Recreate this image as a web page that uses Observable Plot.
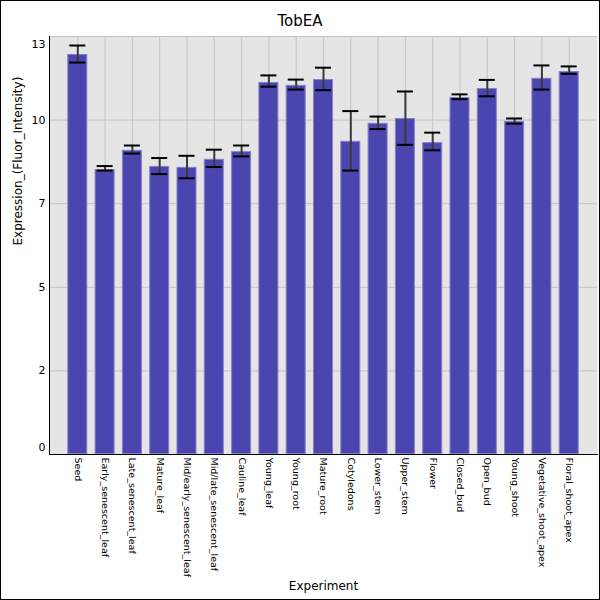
<!DOCTYPE html>
<html>
<head>
<meta charset="utf-8">
<script src="https://cdn.jsdelivr.net/npm/d3@7"></script>
<script src="https://cdn.jsdelivr.net/npm/@observablehq/plot@0.6"></script>
<style>
  html, body { margin: 0; padding: 0; background: white; }
  #wrap { position: relative; width: 600px; height: 600px; font-family: "DejaVu Sans", sans-serif; }
  #border { position: absolute; left: 0; top: 0; width: 600px; height: 600px; box-sizing: border-box; border: 1px solid black; pointer-events: none; }
  #title { position: absolute; left: 0; width: 600px; top: 11px; text-align: center; font-size: 15px; line-height: 20px; color: black; }
  svg { display: block; }
</style>
</head>
<body>
<div id="wrap">
  <div id="chart"></div>
  <div id="title">TobEA</div>
  <div id="border"></div>
</div>
<script>
const categories = ["Seed","Early_senescent_leaf","Late_senescent_leaf","Mature_leaf","Mid/early_senescent_leaf","Mid/late_senescent_leaf","Cauline_leaf","Young_leaf","Young_root","Mature_root","Cotyledons","Lower_stem","Upper_stem","Flower","Closed_bud","Open_bud","Young_shoot","Vegetative_shoot_apex","Floral_shoot_apex"];
const values = [12.44, 8.86, 9.46, 8.96, 8.93, 9.18, 9.42, 11.57, 11.48, 11.66, 9.74, 10.30, 10.45, 9.70, 11.10, 11.38, 10.36, 11.70, 11.91];
const errHigh = [12.72, 8.97, 9.61, 9.22, 9.29, 9.48, 9.61, 11.79, 11.66, 12.03, 10.68, 10.51, 11.29, 10.01, 11.20, 11.65, 10.45, 12.10, 12.07];
const errLow = [12.19, 8.83, 9.36, 8.72, 8.59, 8.94, 9.27, 11.44, 11.35, 11.33, 8.83, 10.12, 9.63, 9.46, 11.05, 11.14, 10.29, 11.35, 11.84];
const yTicks = [0, 2.6, 5.2, 7.8, 10.4, 13];
const yTickLabels = ["0", "2", "5", "7", "10", "13"];

const data = categories.map((name, i) => ({name, value: values[i], lo: errLow[i], hi: errHigh[i]}));
const fmt = d => yTickLabels[yTicks.indexOf(d)];

const chart = Plot.plot({
  width: 600,
  height: 600,
  marginLeft: 49,
  marginRight: 3,
  marginTop: 36,
  marginBottom: 146,
  style: {fontFamily: "DejaVu Sans, sans-serif", background: "transparent", color: "black"},
  x: {type: "band", domain: categories, paddingInner: 0.267, paddingOuter: 0.67, round: false, label: null},
  y: {domain: [0, 13], label: null},
  marks: [
    Plot.frame({fill: "#e5e5e5", stroke: null}),
    Plot.gridY(yTicks, {stroke: "#c2c2c2", strokeOpacity: 1, strokeWidth: 1}),
    Plot.gridX({stroke: "#c4c4c4", strokeOpacity: 1, strokeWidth: 1}),
    Plot.barY(data, {x: "name", y: "value", fill: "#4b45b0", stroke: "#8581c9", strokeWidth: 1, inset: 0.5}),
    Plot.ruleX(data, {x: "name", y1: "lo", y2: "hi", stroke: "#3a3a3a", strokeWidth: 2}),
    Plot.tickY(data, {x: "name", y: "lo", stroke: "black", strokeWidth: 2, inset: 2}),
    Plot.tickY(data, {x: "name", y: "hi", stroke: "black", strokeWidth: 2, inset: 2}),
    Plot.axisY(yTicks.slice(1, 5), {tickSize: 0, tickPadding: 4, tickFormat: fmt, fontSize: 11, fill: "black", label: null}),
    Plot.axisY([13], {tickSize: 0, tickPadding: 4, tickFormat: fmt, fontSize: 11, dy: 8, fill: "black", label: null}),
    Plot.axisY([0], {tickSize: 0, tickPadding: 4, tickFormat: fmt, fontSize: 11, dy: -7, fill: "black", label: null}),
    Plot.axisX({tickSize: 0, tickPadding: 3, tickRotate: 90, textAnchor: "start", fontSize: 9.5, fill: "black", label: null}),
    Plot.frame({anchor: "left", stroke: "black", strokeWidth: 1}),
    Plot.frame({anchor: "bottom", stroke: "black", strokeWidth: 1}),
    Plot.text(["Experiment"], {frameAnchor: "bottom", dy: 135, fontSize: 12, fill: "black"}),
    Plot.text(["Expression_(Fluor_Intensity)"], {frameAnchor: "left", dx: -31, rotate: -90, fontSize: 12, fill: "black"})
  ]
});
document.getElementById("chart").appendChild(chart);
</script>
</body>
</html>
